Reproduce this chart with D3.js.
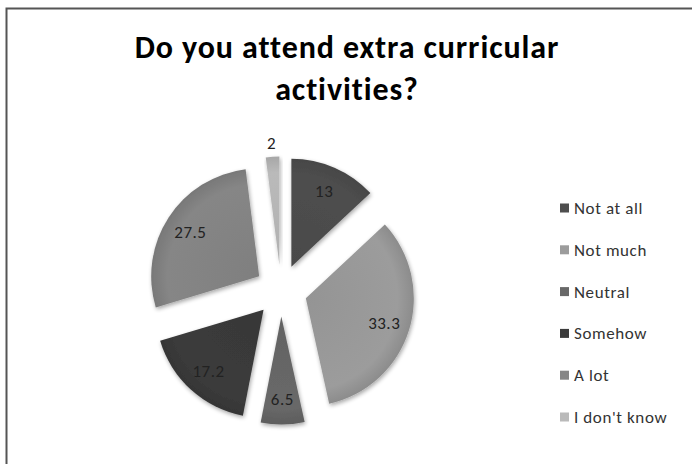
<!DOCTYPE html>
<html>
<head>
<meta charset="utf-8">
<script src="https://cdn.jsdelivr.net/npm/d3@7"></script>
<style>
  body { margin: 0; background: #fff; }
  text { font-family: Carlito, "Open Sans", sans-serif; font-variant-ligatures: none; }
</style>
</head>
<body>
<svg width="692" height="464"></svg>
<script>
var categories = ["Not at all", "Not much", "Neutral", "Somehow", "A lot", "I don't know"];
var values = [13, 33.3, 6.5, 17.2, 27.5, 2];
var colors = ["#4e4e4e", "#9c9c9c", "#686868", "#3b3b3b", "#868686", "#bababa"];
var titleLines = ["Do you attend extra curricular", "activities?"];

var svg = d3.select("svg"),
    width = +svg.attr("width"),
    height = +svg.attr("height"),
    radius = 108,
    explode = 26,
    cx = 281, cy = 290.5;

// frame (only top and left edges show in the crop)
svg.append("path")
    .attr("d", "M6.5," + height + "V8.5H" + width)
    .attr("fill", "none")
    .attr("stroke", "#555")
    .attr("stroke-width", 2);

var title = svg.append("text")
    .attr("x", 347)
    .attr("text-anchor", "middle")
    .attr("font-weight", "bold")
    .attr("font-size", 32)
    .attr("letter-spacing", 0.9)
    .attr("fill", "#000");
title.selectAll("tspan")
  .data(titleLines)
  .enter().append("tspan")
    .attr("x", 347)
    .attr("y", function(d, i) { return 58 + i * 42; })
    .text(function(d) { return d; });

var defs = svg.append("defs");
var shadow = defs.append("filter").attr("id", "shadow")
    .attr("x", "-20%").attr("y", "-20%").attr("width", "140%").attr("height", "140%");
shadow.append("feGaussianBlur").attr("in", "SourceAlpha").attr("stdDeviation", 2.2);
shadow.append("feOffset").attr("dx", 1).attr("dy", 2).attr("result", "blur");
shadow.append("feComponentTransfer").append("feFuncA").attr("type", "linear").attr("slope", 0.35);
var merge = shadow.append("feMerge");
merge.append("feMergeNode");
merge.append("feMergeNode").attr("in", "SourceGraphic");

colors.forEach(function(c, i) {
  var grad = defs.append("radialGradient")
      .attr("id", "g" + i)
      .attr("gradientUnits", "userSpaceOnUse")
      .attr("cx", 0).attr("cy", 0).attr("r", radius);
  grad.append("stop").attr("offset", "0%").attr("stop-color", d3.color(c).darker(0.15));
  grad.append("stop").attr("offset", "85%").attr("stop-color", c);
  grad.append("stop").attr("offset", "100%").attr("stop-color", d3.color(c).darker(0.3));
});

var pie = d3.pie().sort(null).value(function(d) { return d; });
var arcs = pie(values);

var arc = d3.arc().innerRadius(0).outerRadius(radius);
var labelArc = d3.arc().innerRadius(radius * 0.76).outerRadius(radius * 0.76);
var outerLabelArc = d3.arc().innerRadius(radius + 14).outerRadius(radius + 14);

var g = svg.append("g").attr("transform", "translate(" + cx + "," + cy + ")");

var slice = g.selectAll(".slice")
  .data(arcs)
  .enter().append("g")
    .attr("class", "slice")
    .attr("transform", function(d) {
      var a = (d.startAngle + d.endAngle) / 2;
      return "translate(" + (Math.sin(a) * explode) + "," + (-Math.cos(a) * explode) + ")";
    });

slice.append("path")
    .attr("d", arc)
    .attr("fill", function(d, i) { return "url(#g" + i + ")"; })
    .attr("filter", "url(#shadow)");

slice.append("text")
    .attr("transform", function(d) {
      var p = d.value < 5 ? outerLabelArc.centroid(d) : labelArc.centroid(d);
      return "translate(" + p + ")";
    })
    .attr("text-anchor", "middle")
    .attr("dy", "0.35em")
    .attr("font-size", 17)
    .attr("letter-spacing", 0.5)
    .attr("fill", "#222")
    .text(function(d) { return d.value; });

var legend = svg.append("g").attr("transform", "translate(560,208)");
var item = legend.selectAll(".item")
  .data(categories)
  .enter().append("g")
    .attr("class", "item")
    .attr("transform", function(d, i) { return "translate(0," + (i * 41.8) + ")"; });

item.append("rect")
    .attr("x", 0).attr("y", -4.5)
    .attr("width", 9).attr("height", 9)
    .attr("fill", function(d, i) { return colors[i]; });

item.append("text")
    .attr("x", 14)
    .attr("dy", "0.35em")
    .attr("font-size", 17)
    .attr("letter-spacing", 0.6)
    .attr("fill", "#333")
    .text(function(d) { return d; });
</script>
</body>
</html>
